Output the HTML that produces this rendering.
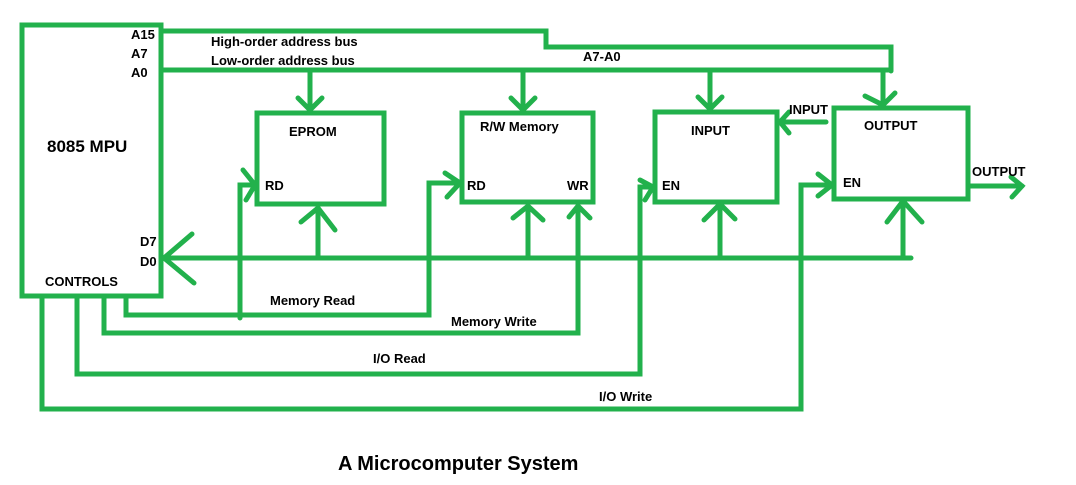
<!DOCTYPE html>
<html><head><meta charset="utf-8"><style>
html,body{margin:0;padding:0;background:#fff;}
svg{display:block;}
text{font-family:"Liberation Sans",sans-serif;font-weight:bold;fill:#000;}
</style></head><body>
<svg width="1076" height="485" viewBox="0 0 1076 485" xmlns="http://www.w3.org/2000/svg">
<g fill="none" stroke="#22b14c" stroke-width="5" stroke-linecap="round" stroke-linejoin="miter">
<!-- boxes -->
<rect x="22" y="25" width="139" height="271"/>
<rect x="257" y="113" width="127" height="91"/>
<rect x="462" y="113" width="131" height="89"/>
<rect x="655" y="112" width="122" height="90"/>
<rect x="834" y="108" width="134" height="91"/>
<!-- address buses -->
<polyline points="161,31 546,31 546,47 891,47 891,71"/>
<polyline points="161,70 891,70"/>
<!-- down arrows -->
<line x1="310" y1="70" x2="310" y2="110"/><polyline points="298,98 310,110 322,98"/>
<line x1="523" y1="70" x2="523" y2="110"/><polyline points="511,98 523,110 535,98"/>
<line x1="710" y1="70" x2="710" y2="109"/><polyline points="698,97 710,109 722,97"/>
<line x1="883" y1="70" x2="883" y2="105"/><polyline points="865,96 883,105 895,93"/>
<!-- data bus -->
<line x1="164" y1="258" x2="911" y2="258"/>
<polyline points="192,234 164,258 194,283"/>
<line x1="318" y1="258" x2="318" y2="208"/><polyline points="301,222 318,208 335,230"/>
<line x1="528" y1="258" x2="528" y2="206"/><polyline points="513,218 528,206 543,220"/>
<line x1="720" y1="258" x2="720" y2="204"/><polyline points="704,220 720,204 735,219"/>
<line x1="903" y1="258" x2="903" y2="201"/><polyline points="887,222 903,201 922,222"/>
<!-- Memory Read -->
<polyline points="126,296 126,315 429,315 429,183 460,183"/>
<polyline points="445,173 460,183 447,197"/>
<polyline points="240,318 240,185 255,185"/>
<polyline points="243,170 255,185 246,200"/>
<!-- Memory Write -->
<polyline points="104,296 104,333 578,333 578,206"/>
<polyline points="569,217 578,206 590,218"/>
<!-- I/O Read -->
<polyline points="77,296 77,374 640,374 640,187 653,187"/>
<polyline points="640,180 653,187 645,200"/>
<!-- I/O Write -->
<polyline points="42,296 42,409 801,409 801,185 832,185"/>
<polyline points="818,174 832,185 818,196"/>
<!-- INPUT ext arrow -->
<line x1="826" y1="122" x2="780" y2="122"/><polyline points="789,112 780,122 789,133"/>
<!-- OUTPUT ext arrow -->
<line x1="969" y1="186" x2="1022" y2="186"/><polyline points="1011,177 1022,186 1012,197"/>
</g>
<g font-size="13">
<text x="131" y="39">A15</text>
<text x="131" y="58">A7</text>
<text x="131" y="77">A0</text>
<text x="211" y="46">High-order address bus</text>
<text x="211" y="65">Low-order address bus</text>
<text x="583" y="61">A7-A0</text>
<text x="47" y="152" font-size="17">8085 MPU</text>
<text x="140" y="246">D7</text>
<text x="140" y="266">D0</text>
<text x="45" y="286">CONTROLS</text>
<text x="289" y="136">EPROM</text>
<text x="265" y="190">RD</text>
<text x="480" y="131">R/W Memory</text>
<text x="467" y="190">RD</text>
<text x="567" y="190">WR</text>
<text x="691" y="135">INPUT</text>
<text x="662" y="190">EN</text>
<text x="789" y="114">INPUT</text>
<text x="864" y="130">OUTPUT</text>
<text x="843" y="187">EN</text>
<text x="972" y="176">OUTPUT</text>
<text x="270" y="305">Memory Read</text>
<text x="451" y="326">Memory Write</text>
<text x="373" y="363">I/O Read</text>
<text x="599" y="401">I/O Write</text>
<text x="338" y="470" font-size="20">A Microcomputer System</text>
</g>
</svg>
</body></html>
